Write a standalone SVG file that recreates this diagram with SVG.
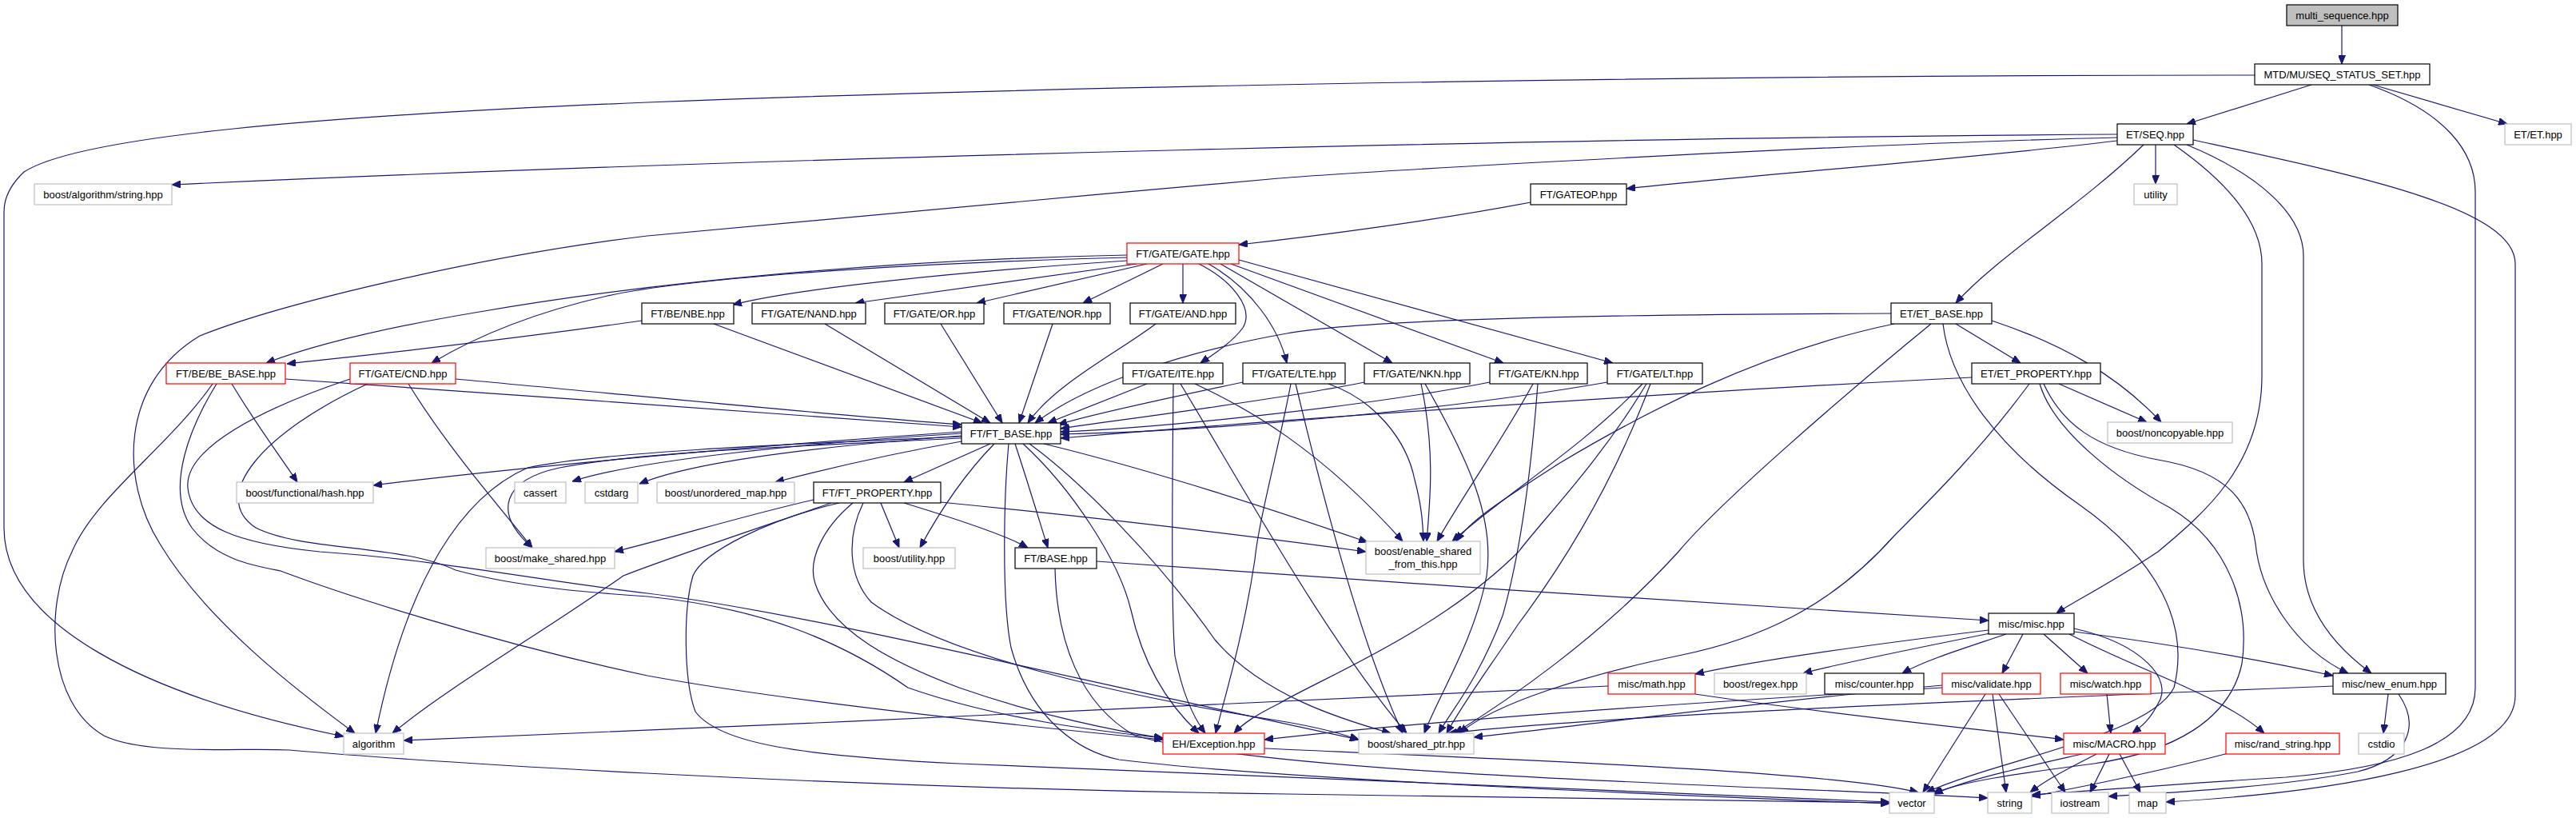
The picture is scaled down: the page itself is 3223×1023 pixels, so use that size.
<svg xmlns="http://www.w3.org/2000/svg" width="3223" height="1023" viewBox="0 0 3223 1023">
<style>
rect{fill:#fff;stroke:#000;stroke-width:1.2}
.r rect{stroke:#ff0000}
.g rect{stroke:#bfbfbf}
.top rect{fill:#bfbfbf}
text{font-family:"Liberation Sans",Arial,sans-serif;font-size:13px;text-anchor:middle;fill:#000}
#edges path{fill:none;stroke:#191970;stroke-width:1.2;marker-end:url(#a)}
</style>
<defs>
<marker id="a" viewBox="0 0 11 9" refX="11" refY="4.5" markerWidth="11" markerHeight="9" markerUnits="userSpaceOnUse" orient="auto"><path d="M0,0 L11,4.5 L0,9 z" fill="#191970" stroke="#191970" stroke-width="1"/></marker>
</defs>
<rect x="0" y="0" width="3223" height="1023" style="fill:#fff;stroke:none"/>
<g id="edges">
<path d="M2930,32 L2930,80"/>
<path d="M2892,106 L2736,155"/>
<path d="M2969,106 L3137,155"/>
<path d="M2964,106 C3060,140 3097,190 3097,240 L3097,860 C3097,930 3000,960 2860,972 C2700,982 2600,990 2542,994"/>
<path d="M2821,94 C2200,94 1400,105 810,128 C400,145 100,170 30,215 C12,232 5,248 5,265 L5,660 C5,780 180,870 430,921"/>
<path d="M2649,168 C2000,172 1000,195 215,231"/>
<path d="M2649,172 C2300,180 1700,215 1600,223 C1300,250 900,285 810,295 C600,320 350,380 250,420 C150,480 150,600 200,680 C260,780 380,870 444,917"/>
<path d="M2649,176 C2450,200 2200,218 2035,236"/>
<path d="M2697,181 L2697,230"/>
<path d="M2682,181 C2600,260 2500,320 2447,379"/>
<path d="M2720,181 C2790,230 2830,280 2830,330 L2830,470 C2830,580 2760,640 2700,690 C2640,730 2590,755 2573,767"/>
<path d="M2736,181 C2830,220 2882,270 2882,320 L2882,700 C2882,770 2930,815 2967,842"/>
<path d="M2744,175 C2950,220 3147,260 3147,330 L3147,870 C3147,960 2900,992 2710,1003"/>
<path d="M1915,253 C1800,275 1650,295 1550,306"/>
<path d="M1410,319 C1100,325 800,355 600,390 C450,415 370,440 333,454"/>
<path d="M1410,322 C1100,330 850,350 760,370 C650,395 580,430 540,454"/>
<path d="M1410,326 C1200,340 1000,360 917,381"/>
<path d="M1422,330 L1070,379"/>
<path d="M1435,330 L1222,379"/>
<path d="M1455,330 L1355,379"/>
<path d="M1480,330 L1480,379"/>
<path d="M1500,330 C1540,350 1570,385 1555,410 C1540,430 1515,445 1502,454"/>
<path d="M1512,330 C1565,360 1600,410 1610,454"/>
<path d="M1527,330 L1742,454"/>
<path d="M1540,330 L1881,454"/>
<path d="M1550,325 L2018,454"/>
<path d="M803,401 C600,430 450,445 359,455"/>
<path d="M893,405 L1229,529"/>
<path d="M1032,405 L1239,529"/>
<path d="M1177,405 L1254,529"/>
<path d="M1317,405 L1275,529"/>
<path d="M1446,405 C1400,440 1320,480 1286,529"/>
<path d="M1435,480 L1311,529"/>
<path d="M1555,478 C1450,500 1360,520 1324,531"/>
<path d="M1707,478 C1600,500 1400,525 1327,536"/>
<path d="M1864,478 C1700,510 1450,535 1327,540"/>
<path d="M2011,478 C1800,515 1500,540 1327,543"/>
<path d="M2366,392 C2000,393 1700,400 1610,417 C1480,440 1360,480 1295,529"/>
<path d="M2467,472 C2100,490 1600,525 1327,548"/>
<path d="M357,474 C600,490 1000,520 1203,534"/>
<path d="M290,480 C320,530 350,570 372,603"/>
<path d="M266,480 C210,560 120,620 90,690 C55,760 60,880 130,920 C180,945 300,935 362,938 C500,950 1000,985 1610,993 C2000,998 2250,1002 2364,1004"/>
<path d="M271,480 C240,530 205,610 240,660 C270,700 320,708 351,714 C420,740 600,800 810,845 C1000,880 1300,910 1455,925"/>
<path d="M570,474 C800,495 1050,520 1203,531"/>
<path d="M511,480 C560,560 630,640 666,685"/>
<path d="M438,474 C330,510 230,560 235,610 C240,660 300,680 400,690 C550,700 700,730 810,742 C1000,765 1300,840 1700,925"/>
<path d="M460,480 C330,540 260,620 320,660 C380,690 500,680 570,713 C650,735 750,742 810,746 C950,760 1050,800 1136,860 C1250,900 1380,915 1455,923"/>
<path d="M1203,540 C900,560 600,590 467,607"/>
<path d="M1203,542 C1000,555 800,575 716,602"/>
<path d="M1203,545 C1000,560 860,580 800,605"/>
<path d="M1203,552 C1100,570 1020,590 970,603"/>
<path d="M1203,548 C1000,558 800,565 700,585 C630,600 615,640 666,685"/>
<path d="M1203,546 C1000,555 750,565 660,585 C580,620 510,720 470,917"/>
<path d="M1239,555 L1131,603"/>
<path d="M1244,555 C1200,600 1170,650 1151,685"/>
<path d="M1270,555 C1285,600 1300,650 1311,685"/>
<path d="M1262,555 C1256,620 1253,750 1265,810 C1290,900 1350,940 1400,950 C1600,975 2100,995 2364,1005"/>
<path d="M1280,555 C1340,610 1400,700 1415,763 C1430,830 1460,880 1500,917"/>
<path d="M1288,555 C1350,600 1450,700 1520,800 C1580,870 1680,900 1740,917"/>
<path d="M1306,555 C1450,590 1600,640 1711,678"/>
<path d="M1018,625 C930,645 850,670 769,690"/>
<path d="M1040,629 C950,660 830,700 780,720 C680,790 560,860 491,917"/>
<path d="M1050,629 C960,650 880,690 867,720 C855,760 855,850 870,890 C900,930 1000,945 1200,955 C1700,975 2100,995 2364,1003"/>
<path d="M1067,629 C1030,660 1010,700 1020,730 C1040,790 1120,830 1200,860 C1300,895 1400,915 1455,923"/>
<path d="M1080,629 C1060,670 1060,720 1090,753 C1180,820 1400,870 1610,903 C1650,910 1680,918 1700,925"/>
<path d="M1102,629 L1125,685"/>
<path d="M1131,629 C1200,650 1260,670 1286,685"/>
<path d="M1177,628 C1400,650 1600,675 1709,690"/>
<path d="M1372,702 C1700,725 2200,760 2488,776"/>
<path d="M1320,711 C1322,800 1350,880 1420,920 C1600,970 2200,982 2487,998"/>
<path d="M1468,480 C1467,600 1465,760 1470,820 C1480,870 1495,900 1508,917"/>
<path d="M1477,480 C1550,600 1660,800 1760,917"/>
<path d="M1495,480 C1560,510 1650,560 1755,677"/>
<path d="M1615,480 C1600,560 1575,650 1570,700 C1555,800 1530,880 1521,917"/>
<path d="M1621,480 C1650,600 1700,800 1755,917"/>
<path d="M1662,480 C1720,500 1760,550 1770,600 C1778,630 1780,650 1781,677"/>
<path d="M1778,480 C1795,560 1790,620 1785,677"/>
<path d="M1783,480 C1840,580 1870,650 1860,720 C1845,800 1800,870 1782,917"/>
<path d="M1918,480 C1880,550 1830,620 1798,677"/>
<path d="M1924,480 C1915,600 1900,700 1880,770 C1850,850 1815,890 1800,917"/>
<path d="M2055,480 C1980,560 1880,620 1817,677"/>
<path d="M2060,480 C2000,580 1930,650 1900,690 C1800,790 1650,850 1600,880 C1570,895 1555,905 1544,917"/>
<path d="M2065,480 C2020,600 1960,700 1900,780 C1860,840 1830,880 1810,917"/>
<path d="M2447,405 L2528,454"/>
<path d="M2492,401 C2580,430 2650,470 2704,528"/>
<path d="M2370,405 C2200,440 2050,520 1950,580 C1880,625 1840,650 1822,677"/>
<path d="M2416,405 C2300,500 2150,630 2100,690 C2000,800 1880,880 1820,917"/>
<path d="M2431,405 C2440,480 2500,560 2600,630 C2700,700 2740,780 2720,860 C2690,920 2500,950 2410,991"/>
<path d="M2576,480 L2686,528"/>
<path d="M2557,480 C2580,530 2620,560 2700,575 C2790,590 2815,630 2822,680 C2828,740 2870,810 2938,842"/>
<path d="M2539,480 C2480,560 2420,620 2370,670 C2290,760 2200,800 2100,820 C1980,845 1870,880 1826,917"/>
<path d="M2552,480 C2570,540 2650,600 2715,635 C2790,680 2815,760 2805,830 C2790,900 2720,940 2620,955 C2520,968 2450,978 2418,993"/>
<path d="M2488,788 C2350,805 2200,825 2121,843"/>
<path d="M2490,792 C2400,810 2300,830 2256,842"/>
<path d="M2510,793 C2460,810 2410,825 2380,842"/>
<path d="M2531,793 L2505,842"/>
<path d="M2557,793 L2612,842"/>
<path d="M2595,786 C2680,805 2720,850 2700,880 C2690,900 2680,908 2668,917"/>
<path d="M2589,793 C2680,840 2780,870 2833,917"/>
<path d="M2595,790 C2750,810 2850,830 2919,845"/>
<path d="M2012,858 C1600,880 1000,905 505,926"/>
<path d="M2121,868 C2300,895 2480,912 2582,925"/>
<path d="M2484,868 L2406,991"/>
<path d="M2493,868 L2510,991"/>
<path d="M2501,868 L2584,991"/>
<path d="M2430,860 C2100,880 1800,900 1582,925"/>
<path d="M2430,857 C2200,878 2000,905 1844,922"/>
<path d="M2636,868 L2641,917"/>
<path d="M2988,868 L2982,917"/>
<path d="M2919,858 C2500,875 2000,895 1812,917"/>
<path d="M3001,868 C3030,910 3010,950 2950,965 C2850,985 2700,992 2638,996"/>
<path d="M2605,943 C2530,960 2460,975 2420,993"/>
<path d="M2623,943 C2590,960 2560,975 2540,991"/>
<path d="M2639,943 L2615,991"/>
<path d="M2652,943 L2678,991"/>
<path d="M2788,942 C2700,965 2600,985 2542,996"/>
<path d="M1582,936 C1900,950 2300,965 2400,991"/>
</g>
<g id="n1" class="top"><rect x="2861" y="6" width="139" height="26"/><text x="2930.5" y="23.5">multi_sequence.hpp</text></g>
<g id="n2"><rect x="2821" y="80" width="219" height="26"/><text x="2930.5" y="97.5">MTD/MU/SEQ_STATUS_SET.hpp</text></g>
<g id="n3"><rect x="2649" y="155" width="95" height="26"/><text x="2696.5" y="172.5">ET/SEQ.hpp</text></g>
<g id="n4" class="g"><rect x="3134" y="155" width="83" height="26"/><text x="3175.5" y="172.5">ET/ET.hpp</text></g>
<g id="n5" class="g"><rect x="43" y="230" width="172" height="26"/><text x="129" y="247.5">boost/algorithm/string.hpp</text></g>
<g id="n6"><rect x="1915" y="230" width="120" height="26"/><text x="1975" y="247.5">FT/GATEOP.hpp</text></g>
<g id="n7" class="g"><rect x="2670" y="230" width="54" height="26"/><text x="2697" y="247.5">utility</text></g>
<g id="n8" class="r"><rect x="1410" y="304" width="140" height="26"/><text x="1480" y="321.5">FT/GATE/GATE.hpp</text></g>
<g id="n9"><rect x="803" y="379" width="115" height="26"/><text x="860.5" y="396.5">FT/BE/NBE.hpp</text></g>
<g id="n10"><rect x="941" y="379" width="142" height="26"/><text x="1012" y="396.5">FT/GATE/NAND.hpp</text></g>
<g id="n11"><rect x="1107" y="379" width="124" height="26"/><text x="1169" y="396.5">FT/GATE/OR.hpp</text></g>
<g id="n12"><rect x="1256" y="379" width="133" height="26"/><text x="1322.5" y="396.5">FT/GATE/NOR.hpp</text></g>
<g id="n13"><rect x="1414" y="379" width="132" height="26"/><text x="1480" y="396.5">FT/GATE/AND.hpp</text></g>
<g id="n14"><rect x="2366" y="379" width="126" height="26"/><text x="2429" y="396.5">ET/ET_BASE.hpp</text></g>
<g id="n15" class="r"><rect x="208" y="454" width="149" height="26"/><text x="282.5" y="471.5">FT/BE/BE_BASE.hpp</text></g>
<g id="n16" class="r"><rect x="438" y="454" width="132" height="26"/><text x="504" y="471.5">FT/GATE/CND.hpp</text></g>
<g id="n17"><rect x="1405" y="454" width="125" height="26"/><text x="1467.5" y="471.5">FT/GATE/ITE.hpp</text></g>
<g id="n18"><rect x="1555" y="454" width="128" height="26"/><text x="1619" y="471.5">FT/GATE/LTE.hpp</text></g>
<g id="n19"><rect x="1707" y="454" width="132" height="26"/><text x="1773" y="471.5">FT/GATE/NKN.hpp</text></g>
<g id="n20"><rect x="1864" y="454" width="122" height="26"/><text x="1925" y="471.5">FT/GATE/KN.hpp</text></g>
<g id="n21"><rect x="2011" y="454" width="119" height="26"/><text x="2070.5" y="471.5">FT/GATE/LT.hpp</text></g>
<g id="n22"><rect x="2467" y="454" width="161" height="26"/><text x="2547.5" y="471.5">ET/ET_PROPERTY.hpp</text></g>
<g id="n23"><rect x="1203" y="529" width="124" height="26"/><text x="1265" y="546.5">FT/FT_BASE.hpp</text></g>
<g id="n24" class="g"><rect x="2637" y="528" width="156" height="26"/><text x="2715" y="545.5">boost/noncopyable.hpp</text></g>
<g id="n25" class="g"><rect x="296" y="603" width="171" height="26"/><text x="381.5" y="620.5">boost/functional/hash.hpp</text></g>
<g id="n26" class="g"><rect x="644" y="603" width="64" height="26"/><text x="676" y="620.5">cassert</text></g>
<g id="n27" class="g"><rect x="732" y="603" width="66" height="26"/><text x="765" y="620.5">cstdarg</text></g>
<g id="n28" class="g"><rect x="822" y="603" width="172" height="26"/><text x="908" y="620.5">boost/unordered_map.hpp</text></g>
<g id="n29"><rect x="1018" y="603" width="159" height="26"/><text x="1097.5" y="620.5">FT/FT_PROPERTY.hpp</text></g>
<g id="n30" class="g"><rect x="608" y="685" width="161" height="26"/><text x="688.5" y="702.5">boost/make_shared.hpp</text></g>
<g id="n31" class="g"><rect x="1080" y="685" width="115" height="26"/><text x="1137.5" y="702.5">boost/utility.hpp</text></g>
<g id="n32"><rect x="1270" y="685" width="102" height="26"/><text x="1321" y="702.5">FT/BASE.hpp</text></g>
<g id="n33" class="g"><rect x="1709" y="677" width="143" height="41"/><text x="1780.5" y="694">boost/enable_shared</text><text x="1780.5" y="709.5">_from_this.hpp</text></g>
<g id="n34"><rect x="2488" y="767" width="107" height="26"/><text x="2541.5" y="784.5">misc/misc.hpp</text></g>
<g id="n35" class="r"><rect x="2012" y="842" width="109" height="26"/><text x="2066.5" y="859.5">misc/math.hpp</text></g>
<g id="n36" class="g"><rect x="2145" y="842" width="115" height="26"/><text x="2202.5" y="859.5">boost/regex.hpp</text></g>
<g id="n37"><rect x="2283" y="842" width="124" height="26"/><text x="2345" y="859.5">misc/counter.hpp</text></g>
<g id="n38" class="r"><rect x="2430" y="842" width="123" height="26"/><text x="2491.5" y="859.5">misc/validate.hpp</text></g>
<g id="n39" class="r"><rect x="2578" y="842" width="113" height="26"/><text x="2634.5" y="859.5">misc/watch.hpp</text></g>
<g id="n40"><rect x="2919" y="842" width="141" height="26"/><text x="2989.5" y="859.5">misc/new_enum.hpp</text></g>
<g id="n41" class="g"><rect x="430" y="917" width="75" height="26"/><text x="467.5" y="934.5">algorithm</text></g>
<g id="n42" class="r"><rect x="1455" y="917" width="127" height="26"/><text x="1518.5" y="934.5">EH/Exception.hpp</text></g>
<g id="n43" class="g"><rect x="1700" y="917" width="144" height="26"/><text x="1772" y="934.5">boost/shared_ptr.hpp</text></g>
<g id="n44" class="r"><rect x="2582" y="917" width="127" height="26"/><text x="2645.5" y="934.5">misc/MACRO.hpp</text></g>
<g id="n45" class="r"><rect x="2785" y="917" width="142" height="26"/><text x="2856" y="934.5">misc/rand_string.hpp</text></g>
<g id="n46" class="g"><rect x="2951" y="917" width="57" height="26"/><text x="2979.5" y="934.5">cstdio</text></g>
<g id="n47" class="g"><rect x="2364" y="991" width="56" height="26"/><text x="2392" y="1008.5">vector</text></g>
<g id="n48" class="g"><rect x="2487" y="991" width="55" height="26"/><text x="2514.5" y="1008.5">string</text></g>
<g id="n49" class="g"><rect x="2567" y="991" width="71" height="26"/><text x="2602.5" y="1008.5">iostream</text></g>
<g id="n50" class="g"><rect x="2664" y="991" width="46" height="26"/><text x="2687" y="1008.5">map</text></g>
</svg>
